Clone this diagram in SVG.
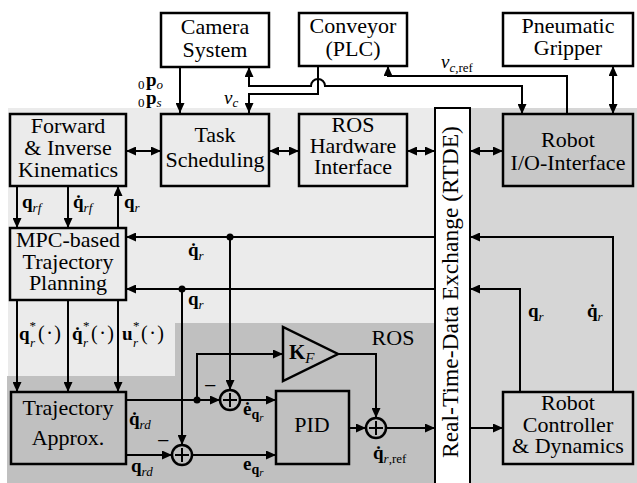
<svg xmlns="http://www.w3.org/2000/svg" width="637" height="483" viewBox="0 0 637 483" font-family="'Liberation Serif', Tinos, 'Times New Roman', 'DejaVu Serif', serif">
<defs>
<marker id="a" markerUnits="userSpaceOnUse" markerWidth="11" markerHeight="9" refX="10" refY="4.5" orient="auto-start-reverse" viewBox="0 0 11 9">
<path d="M0,0 L10,4.5 L0,9 z" fill="#000"/>
</marker>
<style>
.box{stroke:#000;stroke-width:2.5}
.w{fill:#fff}
.lg{fill:#ebebeb}
.dg{fill:#c0c0c0}
.rg{fill:#d6d6d6}
.ig{fill:#c8c8c8}
text{font-family:'Liberation Serif',Tinos,'Times New Roman','DejaVu Serif',serif}
.t{font-size:22px;text-anchor:middle;fill:#000}
.m{font-size:19px;font-weight:bold;fill:#000}
.s{font-size:13px;font-style:italic;font-weight:normal}
.u{font-size:13px;font-style:normal;font-weight:normal}
.n{font-size:20px;fill:#000;font-weight:normal}
.iv{font-size:19px;font-style:italic;fill:#000}
.ln{fill:none;stroke:#000;stroke-width:2}
.ar{marker-end:url(#a)}
.ar2{marker-start:url(#a);marker-end:url(#a)}
.sum{fill:none;stroke:#000;stroke-width:2.5}
</style>
</defs>

<!-- background regions -->
<rect x="8" y="108" width="427" height="375" class="lg"/>
<rect x="435" y="108" width="202" height="375" class="rg"/>
<polygon points="7,376 175,376 175,323 435,323 435,483 7,483" class="dg"/>
<g id="rtde">
<rect x="435" y="108" width="35" height="380" fill="#fff" stroke="#000" stroke-width="2"/>
<text class="n" style="font-size:23.5px" transform="translate(458,458) rotate(-90)">Real-Time-Data Exchange (RTDE)</text>
</g>
<text class="t" x="393" y="345">ROS</text>

<!-- nodes -->
<g id="camera"><rect x="161" y="13" width="108" height="54" class="box w"/><text class="t" x="215" y="34">Camera<tspan x="215" dy="23">System</tspan></text></g>
<g id="conveyor"><rect x="299" y="13" width="108" height="53" class="box w"/><text class="t" x="353" y="33">Conveyor<tspan x="353" dy="23">(PLC)</tspan></text></g>
<g id="gripper"><rect x="503" y="13" width="130" height="53" class="box w"/><text class="t" x="568" y="33">Pneumatic<tspan x="568" dy="22">Gripper</tspan></text></g>
<g id="kinematics"><rect x="10" y="114" width="116" height="72" class="box lg"/><text class="t" x="68" y="133">Forward<tspan x="68" dy="22">&amp; Inverse</tspan><tspan x="68" dy="22">Kinematics</tspan></text></g>
<g id="task"><rect x="161" y="114" width="108" height="72" class="box lg"/><text class="t" x="215" y="142">Task<tspan x="215" dy="25">Scheduling</tspan></text></g>
<g id="roshw"><rect x="299" y="114" width="108" height="72" class="box lg"/><text class="t" x="353" y="132">ROS<tspan x="353" dy="21">Hardware</tspan><tspan x="353" dy="21">Interface</tspan></text></g>
<g id="robotio"><rect x="503" y="114" width="130" height="72" class="box ig"/><text class="t" x="568" y="147">Robot<tspan x="568" dy="23">I/O-Interface</tspan></text></g>
<g id="mpc"><rect x="10" y="228" width="116" height="72" class="box lg"/><text class="t" x="68" y="247">MPC-based<tspan x="68" dy="22">Trajectory</tspan><tspan x="68" dy="21">Planning</tspan></text></g>
<g id="trajapprox"><rect x="11" y="392" width="115" height="72" class="box dg"/><text class="t" x="68" y="415">Trajectory<tspan x="68" dy="30">Approx.</tspan></text></g>
<g id="pid"><rect x="276" y="391" width="73" height="73" class="box dg"/><text class="t" x="312" y="432">PID</text></g>
<g id="robotctrl"><rect x="503" y="392" width="130" height="72" class="box rg"/><text class="t" x="568" y="410">Robot<tspan x="568" dy="22">Controller</tspan><tspan x="568" dy="21">&amp; Dynamics</tspan></text></g>
<g id="kf"><polygon points="283,327 283,381 338,354" class="box dg"/><text class="m" x="289" y="359" style="font-size:21px">K<tspan class="s" dy="4" style="font-size:15px">F</tspan></text></g>
<g id="sum1"><circle cx="230" cy="400" r="10" class="sum"/><path d="M223,400 H237 M230,393 V407" class="ln"/></g>
<g id="sum2"><circle cx="182" cy="455" r="10" class="sum"/><path d="M175,455 H189 M182,448 V462" class="ln"/></g>
<g id="sum3"><circle cx="376" cy="428" r="10" class="sum"/><path d="M369,428 H383 M376,421 V435" class="ln"/></g>

<!-- connectors -->
<g id="connectors">
<path d="M180,67 V113" class="ln ar"/>
<path d="M522,114 V86 H325 A7 7 0 0 0 311 86 H249 V67" class="ln ar2"/>
<path d="M318,66 V94 H249 V113" class="ln ar"/>
<path d="M567,114 V76 H388 V66" class="ln ar"/>
<path d="M613,66 V114" class="ln ar2"/>
<path d="M126,151 H161" class="ln ar2"/>
<path d="M269,151 H299" class="ln ar2"/>
<path d="M407,151 H435" class="ln ar2"/>
<path d="M470,151 H503" class="ln ar2"/>
<path d="M17,186 V228" class="ln ar"/>
<path d="M68,186 V228" class="ln ar"/>
<path d="M118,228 V186" class="ln ar"/>
<path d="M17,300 V392" class="ln ar"/>
<path d="M68,300 V392" class="ln ar"/>
<path d="M118,300 V392" class="ln ar"/>
<path d="M435,237 H126" class="ln ar"/>
<path d="M435,289 H126" class="ln ar"/>
<path d="M230,237 V390" class="ln ar"/>
<path d="M182,289 V445" class="ln ar"/>
<circle cx="230" cy="237" r="3.5"/>
<circle cx="182" cy="289" r="3.5"/>
<path d="M126,400 H220" class="ln ar"/>
<path d="M197,400 V354 H283" class="ln ar"/>
<circle cx="197" cy="400" r="3.5"/>
<path d="M126,455 H172" class="ln ar"/>
<path d="M240,400 H276" class="ln ar"/>
<path d="M192,455 H276" class="ln ar"/>
<path d="M349,428 H366" class="ln ar"/>
<path d="M338,354 H376 V418" class="ln ar"/>
<path d="M386,428 H435" class="ln ar"/>
<path d="M470,428 H503" class="ln ar"/>
<path d="M520,392 V289 H470" class="ln ar"/>
<path d="M613,392 V237 H470" class="ln ar"/>
</g>

<!-- labels -->
<g id="labels">
<text class="n" x="138" y="89" style="font-size:13px">0</text><text class="m" x="146" y="86">p<tspan class="s" dy="3">o</tspan></text>
<text class="n" x="138" y="107" style="font-size:13px">0</text><text class="m" x="146" y="104">p<tspan class="s" dy="3">s</tspan></text>
<text class="iv" x="224" y="104">v<tspan style="font-size:13px" dy="3">c</tspan></text>
<text class="iv" x="441" y="68">v<tspan style="font-size:13px" dy="4">c,</tspan><tspan style="font-size:13px;font-style:normal">ref</tspan></text>
<text class="m" x="22" y="208">q<tspan class="s" dy="4">rf</tspan></text>
<text class="m" x="73" y="208">q&#x307;<tspan class="s" dy="4">rf</tspan></text>
<text class="m" x="124" y="208">q<tspan class="s" dy="4">r</tspan></text>
<text class="m" x="188" y="256">q&#x307;<tspan class="s" dy="4">r</tspan></text>
<text class="m" x="188" y="305">q<tspan class="s" dy="4">r</tspan></text>
<text class="m" x="19" y="340">q<tspan class="n" style="font-size:13px" dy="-10">*</tspan><tspan class="s" x="30" dy="17">r</tspan><tspan class="n" x="38" dy="-7" style="letter-spacing:1.5px">(·)</tspan></text>
<text class="m" x="72" y="340">q&#x307;<tspan class="n" style="font-size:13px" x="83" dy="-10">*</tspan><tspan class="s" x="83" dy="17">r</tspan><tspan class="n" x="91" dy="-7" style="letter-spacing:1.5px">(·)</tspan></text>
<text class="m" x="122" y="340">u<tspan class="n" style="font-size:13px" x="133" dy="-10">*</tspan><tspan class="s" x="133" dy="17">r</tspan><tspan class="n" x="141" dy="-7" style="letter-spacing:1.5px">(·)</tspan></text>
<text class="m" x="129" y="425">q&#x307;<tspan class="s" dy="4">rd</tspan></text>
<text class="m" x="131" y="472">q<tspan class="s" dy="4">rd</tspan></text>
<text class="n" x="204" y="393" style="font-size:22px">−</text>
<text class="n" x="157" y="448" style="font-size:22px">−</text>
<text class="m" x="243" y="415">e&#x307;<tspan style="font-size:14px" dy="4">q</tspan><tspan class="s" style="font-size:11px" dy="2">r</tspan></text>
<text class="m" x="243" y="470">e<tspan style="font-size:14px" dy="4">q</tspan><tspan class="s" style="font-size:11px" dy="2">r</tspan></text>
<text class="m" x="373" y="459">q&#x307;<tspan class="s" dy="4">r</tspan><tspan class="u">,ref</tspan></text>
<text class="m" x="528" y="317">q<tspan class="s" dy="4">r</tspan></text>
<text class="m" x="587" y="317">q&#x307;<tspan class="s" dy="4">r</tspan></text>
</g>
</svg>
